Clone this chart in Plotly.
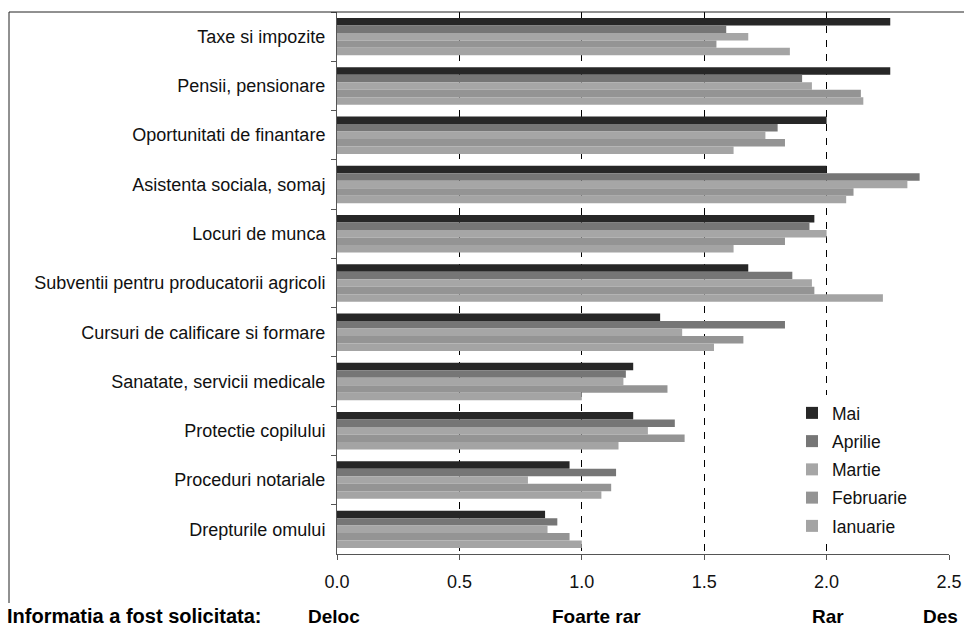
import plotly.graph_objects as go

# Survey topics, listed top to bottom
categories = [
    "Taxe si impozite",
    "Pensii, pensionare",
    "Oportunitati de finantare",
    "Asistenta sociala, somaj",
    "Locuri de munca",
    "Subventii pentru producatorii agricoli",
    "Cursuri de calificare si formare",
    "Sanatate, servicii medicale",
    "Protectie copilului",
    "Proceduri notariale",
    "Drepturile omului",
]

# Average request frequency per month (0 = Deloc ... 3 = Des)
mai = [2.26, 2.26, 2.00, 2.00, 1.95, 1.68, 1.32, 1.21, 1.21, 0.95, 0.85]
aprilie = [1.59, 1.90, 1.80, 2.38, 1.93, 1.86, 1.83, 1.18, 1.38, 1.14, 0.90]
martie = [1.68, 1.94, 1.75, 2.33, 2.00, 1.94, 1.41, 1.17, 1.27, 0.78, 0.86]
februarie = [1.55, 2.14, 1.83, 2.11, 1.83, 1.95, 1.66, 1.35, 1.42, 1.12, 0.95]
ianuarie = [1.85, 2.15, 1.62, 2.08, 1.62, 2.23, 1.54, 1.00, 1.15, 1.08, 1.00]

series_names = ["Mai", "Aprilie", "Martie", "Februarie", "Ianuarie"]
series_values = [mai, aprilie, martie, februarie, ianuarie]
series_colors = ["#272727", "#767676", "#a6a6a6", "#949494", "#a4a4a4"]

x_ticks = [0.0, 0.5, 1.0, 1.5, 2.0, 2.5]
scale_labels = ["Deloc", "Foarte rar", "Rar", "Des"]

FONT = "Liberation Sans, Arial, sans-serif"

fig = go.Figure()
for name, vals, col in zip(series_names, series_values, series_colors):
    fig.add_trace(go.Bar(
        y=categories, x=vals, name=name, orientation="h",
        marker=dict(color=col, line=dict(width=0)),
        legendgroup=name,
    ))

# plot area geometry (pixels) used to place the frame and scale captions
W, H = 964, 627
ML, MR, MT, MB = 337, 15, 12, 73
PW, PH = W - ML - MR, H - MT - MB


def px_x(px):
    return (px - ML) / PW


def px_y(py):
    return (H - MB - py) / PH


fig.update_layout(
    width=W, height=H,
    margin=dict(l=ML, r=MR, t=MT, b=MB, autoexpand=False),
    paper_bgcolor="white", plot_bgcolor="white",
    barmode="group", bargap=0.24, bargroupgap=0,
    font=dict(family=FONT, size=18, color="#111111"),
    showlegend=True,
    legend=dict(
        x=px_x(792), xanchor="left", y=px_y(395), yanchor="top",
        bgcolor="white", borderwidth=0,
        font=dict(family=FONT, size=17.5, color="#111111"),
        tracegroupgap=2.5, itemclick=False,
    ),
    xaxis=dict(
        range=[0, 2.5], tickvals=x_ticks,
        ticktext=[f"{v:.1f}" for v in x_ticks],
        showline=True, linecolor="#555555", linewidth=1,
        ticks="outside", ticklen=5, tickcolor="#555555",
        showgrid=True, gridcolor="#000000", gridwidth=1, griddash="7px,7px",
        zeroline=False, ticklabelstandoff=6, automargin=False,
        tickfont=dict(family=FONT, size=18, color="#111111"),
    ),
    yaxis=dict(
        categoryorder="array", categoryarray=categories,
        autorange="reversed",
        showline=True, linecolor="#555555", linewidth=1,
        ticks="outside", ticklen=5, tickcolor="#555555",
        tickson="boundaries", showgrid=False, zeroline=False,
        ticklabelstandoff=7, automargin=False,
        tickfont=dict(family=FONT, size=18, color="#111111"),
    ),
)

# outer frame (top and left edges)
fig.add_shape(type="line", xref="paper", yref="paper",
              x0=px_x(9), x1=px_x(W + 5), y0=px_y(12), y1=px_y(12),
              line=dict(color="#222222", width=1))
fig.add_shape(type="line", xref="paper", yref="paper",
              x0=px_x(9), x1=px_x(9), y0=px_y(12), y1=px_y(603),
              line=dict(color="#222222", width=1))

# scale captions under the axis
cap_y = px_y(616)
fig.add_annotation(text="<b>Informatia a fost solicitata:</b>", xref="paper", yref="paper",
                   x=px_x(5), y=cap_y, xanchor="left", yanchor="middle",
                   showarrow=False, font=dict(family=FONT, size=20, color="#000000"))
for lab, cx in zip(scale_labels, [334, 596, 828, 940]):
    fig.add_annotation(text=f"<b>{lab}</b>", xref="paper", yref="paper",
                       x=px_x(cx), y=cap_y, xanchor="center", yanchor="middle",
                       showarrow=False, font=dict(family=FONT, size=19, color="#000000"))

fig.write_html("out.html")
